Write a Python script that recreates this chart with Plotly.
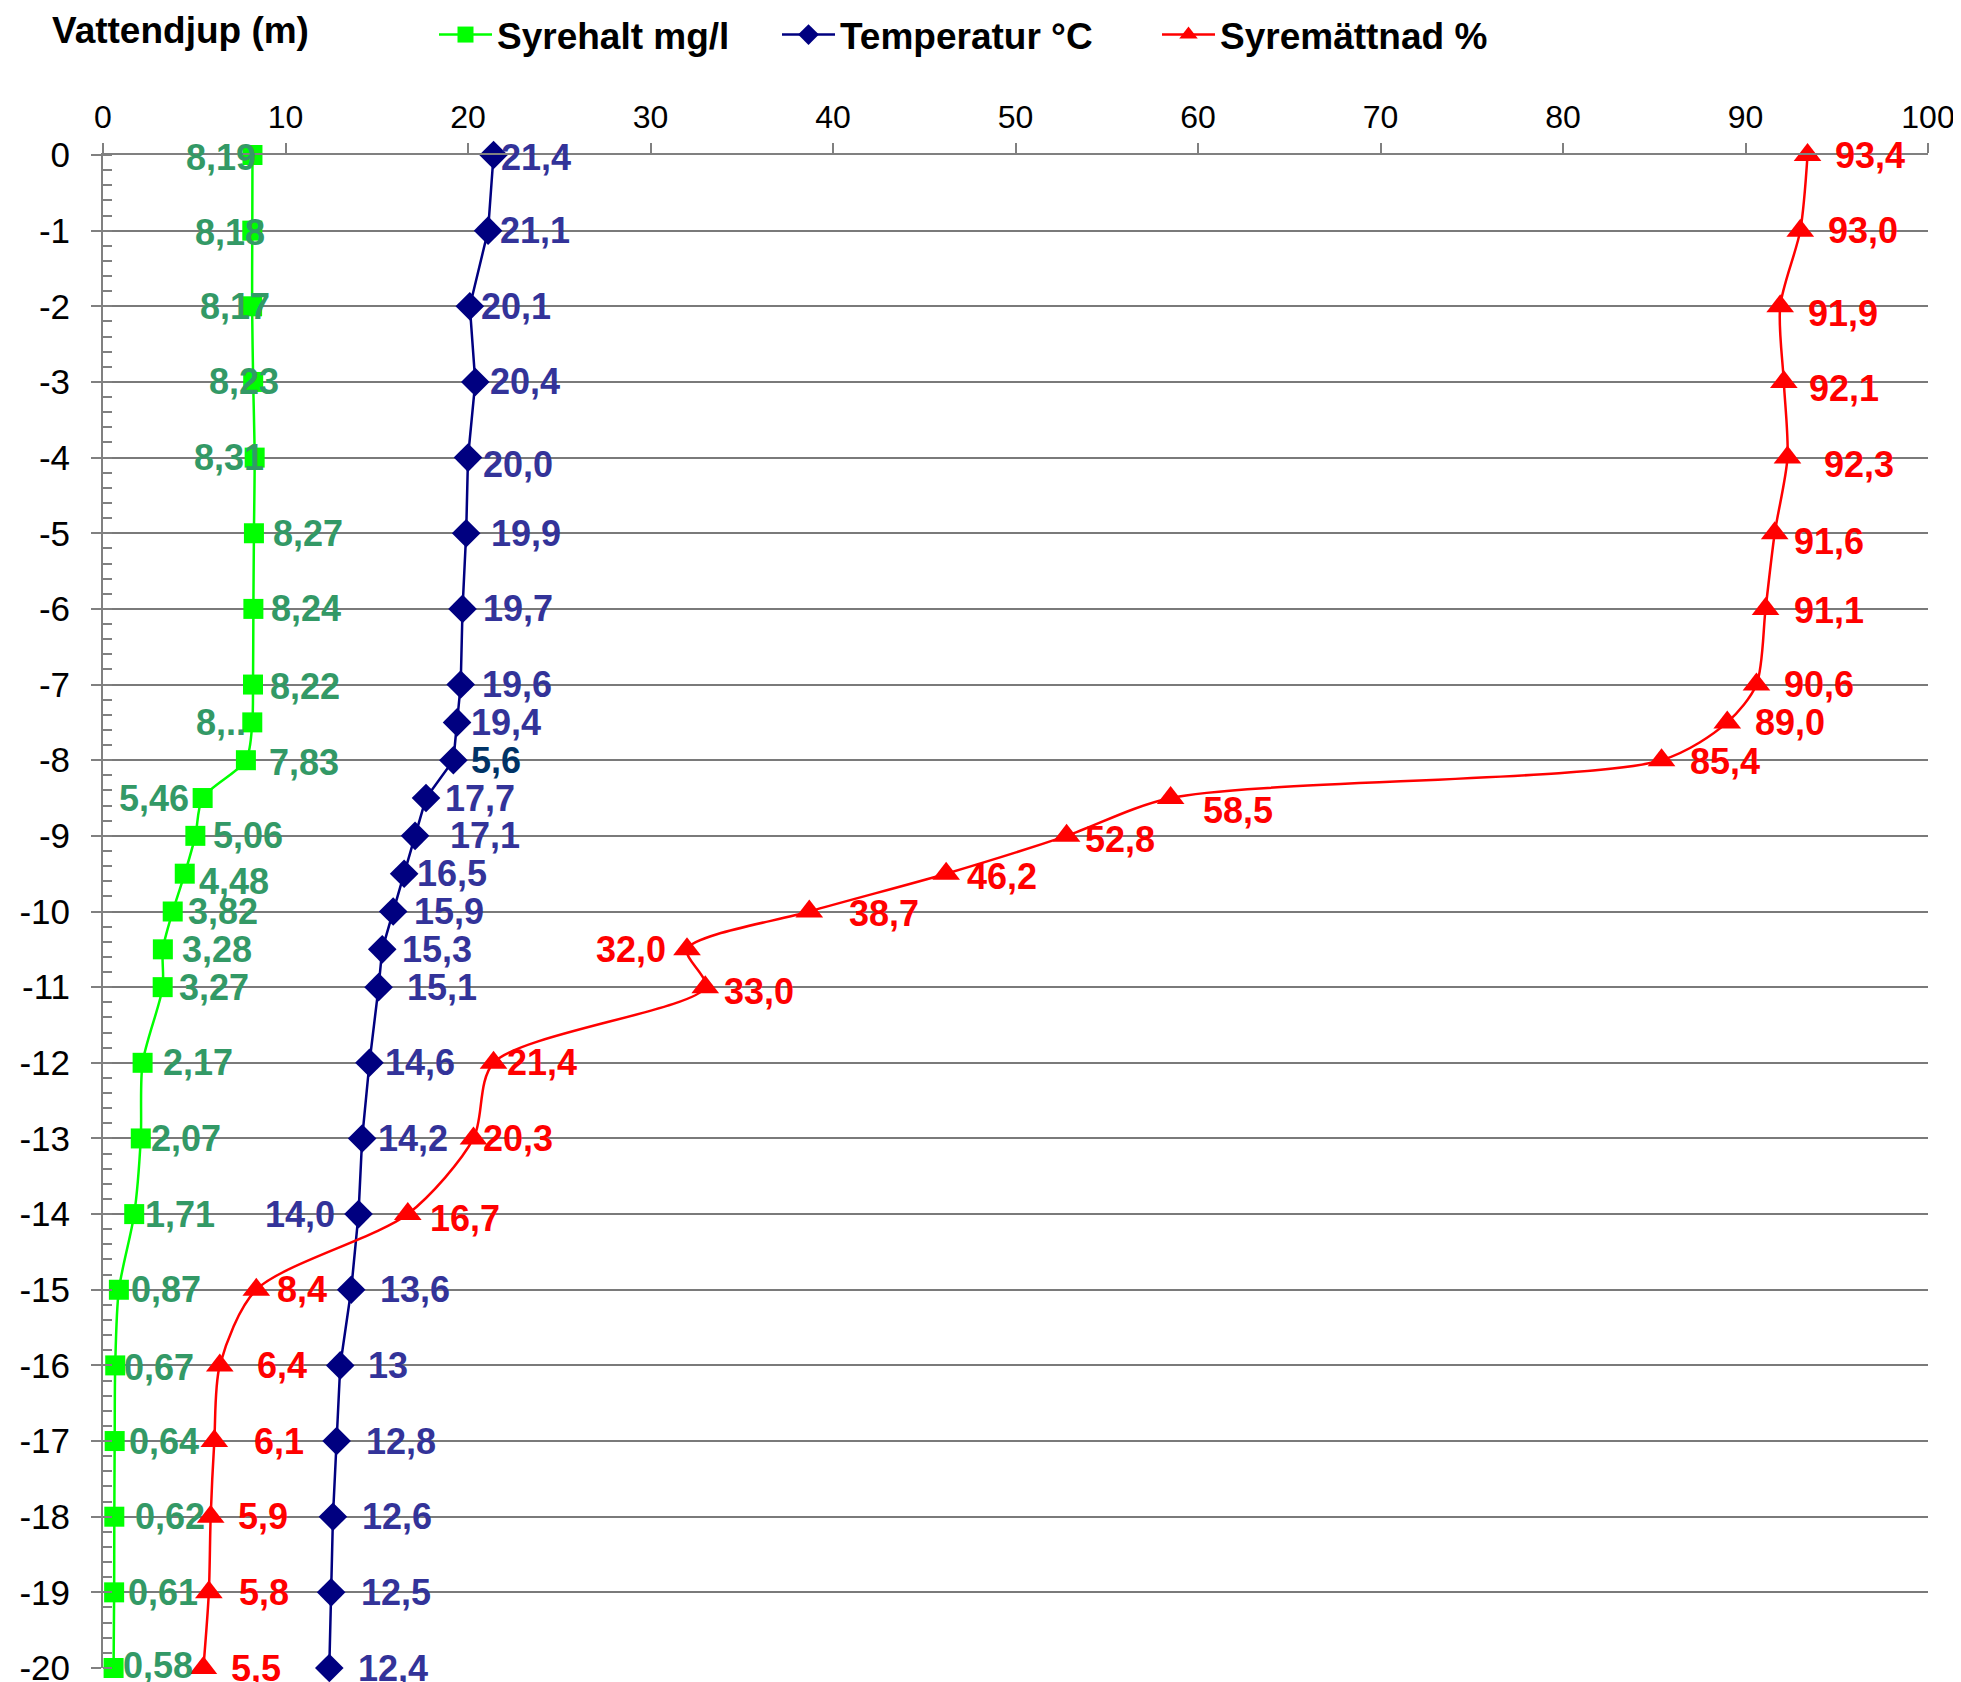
import plotly.graph_objects as go

# ---------------- data ----------------
depth = [0, -1, -2, -3, -4, -5, -6, -7, -7.5, -8, -8.5, -9, -9.5, -10, -10.5, -11,
         -12, -13, -14, -15, -16, -17, -18, -19, -20]
syrehalt = [8.19, 8.18, 8.17, 8.23, 8.31, 8.27, 8.24, 8.22, 8.18, 7.83, 5.46, 5.06, 4.48,
            3.82, 3.28, 3.27, 2.17, 2.07, 1.71, 0.87, 0.67, 0.64, 0.62, 0.61, 0.58]
syrehalt_labels = ["8,19", "8,18", "8,17", "8,23", "8,31", "8,27", "8,24", "8,22", "8,..",
                   "7,83", "5,46", "5,06", "4,48", "3,82", "3,28", "3,27", "2,17", "2,07",
                   "1,71", "0,87", "0,67", "0,64", "0,62", "0,61", "0,58"]
temperatur = [21.4, 21.1, 20.1, 20.4, 20.0, 19.9, 19.7, 19.6, 19.4, 19.2, 17.7, 17.1, 16.5,
              15.9, 15.3, 15.1, 14.6, 14.2, 14.0, 13.6, 13.0, 12.8, 12.6, 12.5, 12.4]
temperatur_labels = ["21,4", "21,1", "20,1", "20,4", "20,0", "19,9", "19,7", "19,6", "19,4",
                     "5,6", "17,7", "17,1", "16,5", "15,9", "15,3", "15,1", "14,6", "14,2",
                     "14,0", "13,6", "13", "12,8", "12,6", "12,5", "12,4"]
syremattnad = [93.4, 93.0, 91.9, 92.1, 92.3, 91.6, 91.1, 90.6, 89.0, 85.4, 58.5, 52.8, 46.2,
               38.7, 32.0, 33.0, 21.4, 20.3, 16.7, 8.4, 6.4, 6.1, 5.9, 5.8, 5.5]
syremattnad_labels = ["93,4", "93,0", "91,9", "92,1", "92,3", "91,6", "91,1", "90,6", "89,0",
                      "85,4", "58,5", "52,8", "46,2", "38,7", "32,0", "33,0", "21,4", "20,3",
                      "16,7", "8,4", "6,4", "6,1", "5,9", "5,8", "5,5"]
x_ticks = [0, 10, 20, 30, 40, 50, 60, 70, 80, 90, 100]
y_ticks = list(range(0, -21, -1))

# ---------------- label placement (style) ----------------
# (anchor, xshift px, yshift px)
green_pos = [("center", -31, -2), ("center", -22, -2), ("center", -17, 0), ("center", -9, 0),
             ("center", -26, 0), ("left", 17, 0), ("left", 16, 0), ("left", 15, -2),
             ("right", -4, 0), ("left", 21, -2), ("right", -12, 0), ("left", 16, 0),
             ("left", 12, -8), ("left", 13, 0), ("left", 17, 0), ("left", 14, 0),
             ("left", 18, 0), ("left", 8, 0), ("left", 9, 0), ("left", 10, 0),
             ("left", 7, -2), ("left", 12, 0), ("left", 19, 0), ("left", 12, 0), ("left", 7, 3)]
navy_pos = [("left", 5, -2), ("left", 10, 0), ("left", 9, 0), ("left", 13, 0), ("left", 13, -7),
            ("left", 23, 0), ("left", 18, 0), ("left", 19, 0), ("left", 12, 0), ("left", 16, 0),
            ("left", 17, 0), ("left", 33, 0), ("left", 11, 0), ("left", 19, 0), ("left", 18, 0),
            ("left", 26, 0), ("left", 14, 0), ("left", 14, 0), ("right", -22, 0), ("left", 27, 0),
            ("left", 26, 0), ("left", 27, 0), ("left", 27, 0), ("left", 28, 0), ("left", 27, 0)]
red_pos = [("left", 25, 0), ("left", 26, 0), ("left", 26, -7), ("left", 23, -7), ("left", 35, -7),
           ("left", 17, -8), ("left", 26, -2), ("left", 26, 0), ("left", 26, 0), ("left", 26, -1),
           ("left", 30, -12), ("left", 16, -4), ("left", 19, -3), ("left", 38, -2), ("right", -19, 0),
           ("left", 17, -4), ("left", 11, 0), ("left", 8, 0), ("left", 20, -4), ("left", 19, 0),
           ("left", 35, 0), ("left", 38, 0), ("left", 25, 0), ("left", 28, 0), ("left", 26, 0)]

GREEN = "#00FF00"
NAVY = "#000080"
RED = "#FF0000"
FONT = "Liberation Sans, Arial, sans-serif"

W, H = 1961, 1682
ML, MR, MT, MB = 95, 41, 147, 22
PH = H - MT - MB
PW = W - ML - MR

fig = go.Figure()
fig.add_trace(go.Scatter(
    x=syrehalt, y=depth, name="Syrehalt mg/l", mode="lines+markers", legend="legend",
    line=dict(color=GREEN, width=2.5, shape="spline", smoothing=0.8),
    marker=dict(symbol="square", size=20, color=GREEN), cliponaxis=False))
fig.add_trace(go.Scatter(
    x=temperatur, y=depth, name="Temperatur °C", mode="lines+markers", legend="legend2",
    line=dict(color=NAVY, width=2.5),
    marker=dict(symbol="diamond", size=22, color=NAVY), cliponaxis=False))
fig.add_trace(go.Scatter(
    x=syremattnad, y=depth, name="Syremättnad %", mode="lines+markers", legend="legend3",
    line=dict(color=RED, width=2.5, shape="spline", smoothing=0.8),
    marker=dict(symbol="triangle-up", size=24, color=RED), cliponaxis=False))

annotations = []
def add_labels(xs, labels, positions, color, special=None):
    for i, (xv, yv, txt, pos) in enumerate(zip(xs, depth, labels, positions)):
        c = color
        if special and i in special:
            c = special[i]
        annotations.append(dict(
            x=xv, y=yv, xref="x", yref="y", text=txt, showarrow=False,
            xanchor=pos[0], yanchor="middle", xshift=pos[1], yshift=pos[2],
            font=dict(family=FONT, size=36, color=c, weight="bold")))

add_labels(syrehalt, syrehalt_labels, green_pos, "#339966")
add_labels(temperatur, temperatur_labels, navy_pos, "#333399", special={9: "#003366"})
add_labels(syremattnad, syremattnad_labels, red_pos, RED)

def legend_at(px):
    return dict(orientation="h", x=(px - ML) / PW, xanchor="left",
                y=1 + (MT - 27) / PH, yanchor="middle",
                font=dict(family=FONT, size=37, color="black", weight="bold"),
                itemwidth=53, bgcolor="rgba(0,0,0,0)", borderwidth=0)

fig.update_layout(
    width=W, height=H,
    margin=dict(l=ML, r=MR, t=MT, b=MB, autoexpand=False),
    paper_bgcolor="white", plot_bgcolor="white",
    title=dict(text="Vattendjup (m)", x=44 / W, xref="container", xanchor="left",
               y=1 - 22 / H, yref="container", yanchor="middle",
               font=dict(family=FONT, size=37, color="black", weight="bold")),
    showlegend=True,
    legend=legend_at(426),
    legend2=legend_at(769),
    legend3=legend_at(1149),
    annotations=annotations,
    xaxis=dict(side="top", range=[0, 100], tickvals=x_ticks,
               ticktext=[str(v) for v in x_ticks],
               showgrid=False, zeroline=False, showline=True, linecolor="#808080",
               linewidth=2, ticks="outside", ticklen=10, tickcolor="#808080", tickwidth=2,
               tickfont=dict(family=FONT, size=32, color="black"), ticklabelstandoff=2),
    yaxis=dict(range=[-20, 0], tickvals=y_ticks, ticktext=[str(v) for v in y_ticks],
               showgrid=True, gridcolor="#7a7a7a", gridwidth=2, zeroline=False,
               showline=True, linecolor="#808080", linewidth=2,
               ticks="outside", ticklen=10, tickcolor="#808080", tickwidth=2,
               minor=dict(dtick=0.2, ticks="inside", ticklen=9, tickcolor="#808080",
                          tickwidth=2, showgrid=False),
               tickfont=dict(family=FONT, size=35, color="black"), ticklabelstandoff=14),
)

fig.write_html("out.html")
